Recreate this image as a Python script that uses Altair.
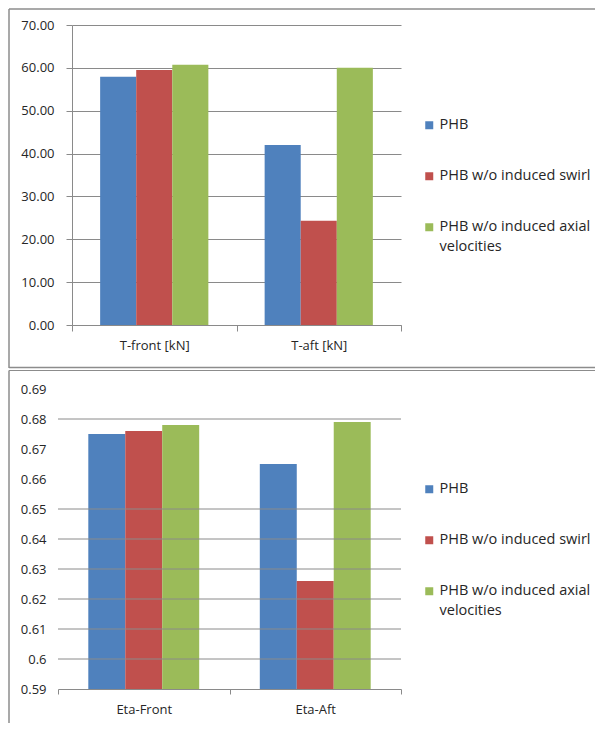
import altair as alt
import pandas as pd

# ---------------- data ----------------
series = ["PHB", "PHB w/o induced swirl", "PHB w/o induced axial velocities"]
colors = ["#4F81BD", "#C0504D", "#9BBB59"]

thrust_cats = ["T-front [kN]", "T-aft [kN]"]
thrust_phb = [57.9, 42.0]
thrust_swirl = [59.5, 24.3]
thrust_axial = [60.7, 60.0]
thrust_ticks = [0, 10, 20, 30, 40, 50, 60, 70]

eta_cats = ["Eta-Front", "Eta-Aft"]
eta_phb = [0.675, 0.665]
eta_swirl = [0.676, 0.626]
eta_axial = [0.678, 0.679]
eta_ticks = [0.59, 0.60, 0.61, 0.62, 0.63, 0.64, 0.65, 0.66, 0.67, 0.68, 0.69]
eta_grid = [0.60, 0.61, 0.62, 0.63, 0.64, 0.65, 0.68]


def long_df(cats, vals_by_series):
    rows = []
    for s, vals in zip(series, vals_by_series):
        for c, v in zip(cats, vals):
            rows.append({"cat": c, "series": s, "value": v})
    return pd.DataFrame(rows)


thrust_df = long_df(thrust_cats, [thrust_phb, thrust_swirl, thrust_axial])
eta_df = long_df(eta_cats, [eta_phb, eta_swirl, eta_axial])

FONT = "Open Sans"
TXT = "#262626"
GRID = "#8a8a8a"
FRAME = "#8c8c8c"
AX_FS = 13

label_expr = ("datum.label == 'PHB w/o induced axial velocities' ? "
              "['PHB w/o induced axial', 'velocities'] : datum.label")


def legend():
    return alt.Legend(
        title=None, orient="none", legendX=364, legendY=93, padding=0,
        symbolType="square", symbolSize=64, symbolStrokeWidth=0,
        labelFont=FONT, labelFontSize=14.5, labelColor=TXT, labelLimit=400,
        labelOffset=3, rowPadding=36, labelExpr=label_expr,
    )


one = pd.DataFrame({"k": [0]})


def hline(y, x1, x2, sw=1.5):
    return alt.Chart(one).mark_rule(color=FRAME, strokeWidth=sw).encode(
        x=alt.value(x1), x2=alt.value(x2), y=alt.value(y))


def vline(x, y1, y2):
    return alt.Chart(one).mark_rule(color=FRAME, strokeWidth=1.5).encode(
        x=alt.value(x), y=alt.value(y1), y2=alt.value(y2))


W = 343
H = 300

# ---------------- top panel ----------------
top_bars = alt.Chart(thrust_df).mark_bar().encode(
    x=alt.X("cat:N", sort=thrust_cats,
            scale=alt.Scale(range=[14, W], paddingInner=0, paddingOuter=0),
            axis=alt.Axis(title=None, labelAngle=0, tickBand="extent", tickSize=6,
                          labelPadding=8, domainColor=GRID, tickColor=GRID, grid=False,
                          labelFont=FONT, labelFontSize=AX_FS, labelColor=TXT)),
    xOffset=alt.XOffset("series:N", sort=series,
                        scale=alt.Scale(paddingInner=0, paddingOuter=0.78)),
    y=alt.Y("value:Q", scale=alt.Scale(domain=[0, 70], nice=False),
            axis=alt.Axis(title=None, values=thrust_ticks, format=".2f", offset=-14,
                          tickSize=6, labelPadding=12, domainColor=GRID, tickColor=GRID,
                          gridColor=GRID, grid=True, labelOverlap=False,
                          labelFont=FONT, labelFontSize=AX_FS, labelColor=TXT)),
    color=alt.Color("series:N", sort=series,
                    scale=alt.Scale(domain=series, range=colors), legend=legend()),
)

top = alt.layer(
    top_bars,
    vline(-49, -16, 343),
    hline(-16, -49, 537),
    hline(342.5, -49, 537, sw=1.5),
).properties(width=W, height=H)

# ---------------- bottom panel ----------------
eta_scale = alt.Scale(domain=[0.59, 0.69], nice=False, zero=False)
eta_axis = alt.Axis(title=None, values=eta_ticks, format="~g", domain=False,
                    ticks=False, tickSize=0, labelPadding=12, grid=False,
                    labelOverlap=False, labelSeparation=0,
                    labelFont=FONT, labelFontSize=AX_FS, labelColor=TXT)

grid_df = pd.DataFrame({"g": eta_grid})
eta_grid_rules = alt.Chart(grid_df).mark_rule(color=GRID, strokeWidth=1).encode(
    y=alt.Y("g:Q", scale=eta_scale, axis=eta_axis))

bot_bars = alt.Chart(eta_df).mark_bar(clip=True).encode(
    x=alt.X("cat:N", sort=eta_cats,
            scale=alt.Scale(paddingInner=0, paddingOuter=0),
            axis=alt.Axis(title=None, labelAngle=0, tickBand="extent", tickSize=5,
                          labelPadding=9, domainColor=GRID, tickColor=GRID, grid=False,
                          labelFont=FONT, labelFontSize=AX_FS, labelColor=TXT)),
    xOffset=alt.XOffset("series:N", sort=series,
                        scale=alt.Scale(paddingInner=0, paddingOuter=0.82)),
    y=alt.Y("value:Q", scale=eta_scale, axis=eta_axis),
    color=alt.Color("series:N", sort=series,
                    scale=alt.Scale(domain=series, range=colors), legend=legend()),
)

bottom = alt.layer(
    bot_bars,
    eta_grid_rules,
    vline(-49, -18.5, 334),
    hline(-18.5, -49, 537, sw=1),
).properties(width=W, height=H)

chart = alt.vconcat(top, bottom, spacing=0).resolve_scale(
    x="independent", y="independent", color="independent", xOffset="independent"
).resolve_legend(color="independent").properties(
    padding=0, background="white"
).configure(
    style={"guide-label": {"lineHeight": 20}}
).configure_view(stroke=None)

chart.save("out.html", embed_options={"renderer": "svg", "actions": False})
